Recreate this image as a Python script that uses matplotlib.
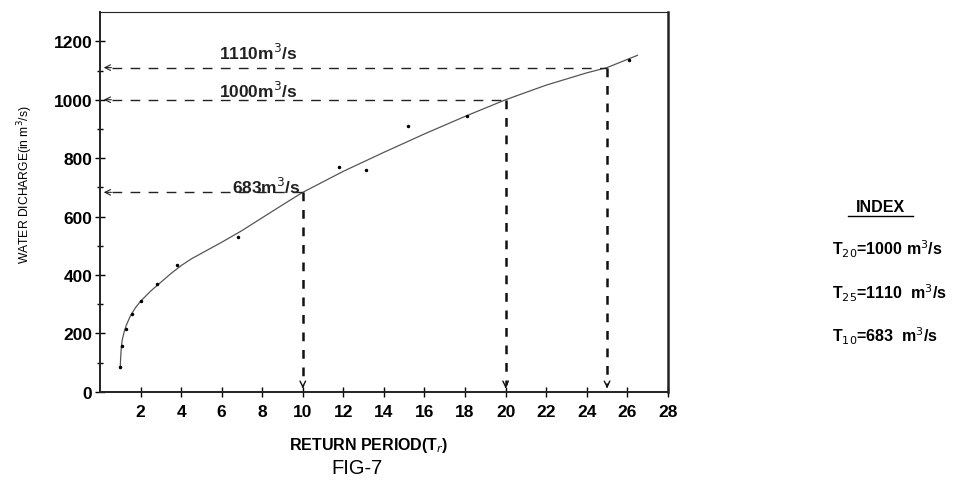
import numpy as np
import matplotlib.pyplot as plt

plt.rcParams['font.family'] = ['Liberation Sans', 'DejaVu Sans']

# fitted curve
curve_x = [1.0, 1.02, 1.05, 1.1, 1.2, 1.3, 1.5, 1.75, 2.0, 2.5, 3.0, 3.5, 4.0, 4.5,
           5.0, 6.0, 7.0, 8.0, 9.0, 10.0, 12.0, 14.0, 16.0, 18.0, 20.0, 22.0,
           24.0, 25.0, 26.5]
curve_y = [80, 115, 150, 178, 207, 228, 260, 288, 310, 345, 375, 405, 432, 455,
           474, 512, 552, 596, 640, 683, 755, 820, 883, 943, 1000, 1050,
           1092, 1110, 1152]

# plotted observations
obs_x = [1.0, 1.08, 1.3, 1.6, 2.0, 2.8, 3.8, 6.8, 11.8, 13.1, 15.2, 18.1, 26.1]
obs_y = [85, 158, 215, 265, 310, 370, 435, 531, 770, 760, 911, 945, 1137]

# return periods and read-off discharges
rp = [10, 20, 25]
q = [683, 1000, 1110]
q_labels = ['683m$^3$/s', '1000m$^3$/s', '1110m$^3$/s']
q_label_pos = [(8.2, 705), (7.8, 1034), (7.8, 1164)]

index_lines = ['T$_{20}$=1000 m$^3$/s', 'T$_{25}$=1110  m$^3$/s', 'T$_{10}$=683  m$^3$/s']

fig = plt.figure(figsize=(9.61, 4.85), dpi=100)
ax = fig.add_axes([0.104, 0.190, 0.591, 0.783])

ax.plot(curve_x, curve_y, color='#555555', lw=0.9)
ax.plot(obs_x, obs_y, 'k.', ms=3)

for x, y in zip(rp, q):
    # horizontal guide with arrow at axis
    ax.plot([0.6, x], [y, y], color='#222222', lw=1.0, dashes=(7, 6))
    ax.annotate('', xy=(0.05, y), xytext=(0.7, y),
                arrowprops=dict(arrowstyle='->', lw=0.8, color='#222222'))
    # vertical guide down to axis
    ax.plot([x, x], [y, 25], color='#111111', lw=1.8, dashes=(3.5, 3.5))
    ax.annotate('', xy=(x, 3), xytext=(x, 30),
                arrowprops=dict(arrowstyle='->', lw=1.0, color='#111111'))

for txt, (tx, ty) in zip(q_labels, q_label_pos):
    ax.text(tx, ty, txt, ha='center', va='center', fontsize=12.5, fontweight='bold',
            color='#222222')

ax.set_xlim(0, 28)
ax.set_ylim(0, 1300)
ax.set_xticks(np.arange(2, 29, 2))
ax.set_yticks(np.arange(0, 1201, 200))
ax.set_yticks(np.arange(100, 1300, 200), minor=True)
ax.tick_params(axis='both', which='both', direction='inout', length=7, width=1,
               labelsize=12.5)
ax.tick_params(axis='y', which='minor', length=5)
for lab in ax.get_xticklabels() + ax.get_yticklabels():
    lab.set_fontweight('bold')
ax.tick_params(axis='x', pad=5)
ax.tick_params(axis='y', pad=2)
for s in ax.spines.values():
    s.set_color('#222222')
ax.spines['right'].set_linewidth(1.8)
ax.spines['left'].set_linewidth(1.4)
ax.spines['bottom'].set_linewidth(1.4)

fig.text(0.026, 0.619, 'WATER DICHARGE(in m$^3$/s)', rotation=90, ha='center',
         va='center', fontsize=8.7)
fig.text(0.384, 0.082, 'RETURN PERIOD(T$_r$)', ha='center', va='center',
         fontsize=11.5, fontweight='bold')
fig.text(0.372, 0.035, 'FIG-7', ha='center', va='center', fontsize=14.5)

fig.text(0.916, 0.573, 'INDEX', ha='center', va='center', fontsize=11.5,
         fontweight='bold')
fig.add_artist(plt.Line2D([0.882, 0.950], [0.553, 0.553], color='black', lw=1))
for i, t in enumerate(index_lines):
    fig.text(0.866, 0.485 - i * 0.089, t, ha='left', va='center', fontsize=11.5,
             fontweight='bold')

fig.savefig('out.png', dpi=100, facecolor='white')
